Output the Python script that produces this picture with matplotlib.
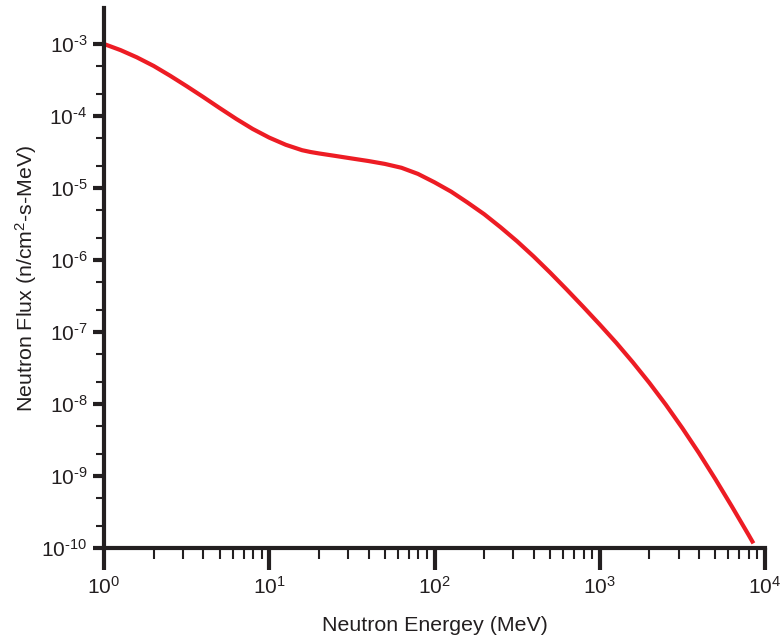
import numpy as np
import matplotlib
matplotlib.use("Agg")
import matplotlib.pyplot as plt
from matplotlib.ticker import FixedLocator, NullFormatter, FuncFormatter

plt.rcParams['font.family'] = ['Liberation Sans', 'DejaVu Sans']
plt.rcParams['mathtext.fontset'] = 'custom'
plt.rcParams['mathtext.rm'] = 'Liberation Sans'
plt.rcParams['mathtext.it'] = 'Liberation Sans'

# Data
energy_mev = [1.0, 1.26, 1.58, 2.0, 2.51, 3.16, 3.98, 5.01, 6.31, 7.94,
              10, 12.6, 15.8, 17.8, 20, 25.1, 31.6, 39.8, 50.1, 63.1, 79.4,
              100, 126, 158, 200, 251, 316, 398, 501, 631, 794,
              1000, 1259, 1585, 1995, 2512, 3162, 3981, 5012, 6310, 7943, 8511]
flux = [1.0e-3, 8.22e-4, 6.53e-4, 4.95e-4, 3.63e-4, 2.60e-4, 1.84e-4, 1.29e-4, 9.12e-5, 6.61e-5,
        5.01e-5, 3.98e-5, 3.35e-5, 3.16e-5, 3.02e-5, 2.79e-5, 2.57e-5, 2.37e-5, 2.16e-5, 1.91e-5, 1.57e-5,
        1.20e-5, 8.91e-6, 6.31e-6, 4.32e-6, 2.85e-6, 1.82e-6, 1.12e-6, 6.68e-7, 3.89e-7, 2.24e-7,
        1.27e-7, 7.08e-8, 3.80e-8, 1.97e-8, 9.77e-9, 4.62e-9, 2.09e-9, 9.02e-10, 3.76e-10, 1.53e-10, 1.16e-10]

x_ticks = [1e0, 1e1, 1e2, 1e3, 1e4]
y_ticks = [1e-10, 1e-9, 1e-8, 1e-7, 1e-6, 1e-5, 1e-4, 1e-3]

fig = plt.figure(figsize=(7.83, 6.37), dpi=100)
ax = fig.add_axes([104/783, 89/637, (765-104)/783, (548-8)/637])

ax.plot(energy_mev, flux, color='#ED1C24', lw=3.0, solid_capstyle='butt',
        solid_joinstyle='round')

ax.set_xscale('log')
ax.set_yscale('log')
ax.set_xlim(1, 1e4)
ax.set_ylim(1e-10, 10**-2.5)

for s in ['top', 'right']:
    ax.spines[s].set_visible(False)
for s in ['left', 'bottom']:
    ax.spines[s].set_linewidth(3)
    ax.spines[s].set_color('#231F20')
    ax.spines[s].set_capstyle('projecting')


def pow_fmt(v, pos):
    e = int(round(np.log10(v)))
    if e < 0:
        return r'$\mathregular{10^{\text{-}%d}}$' % (-e)
    return r'$\mathregular{10^{%d}}$' % e


ax.xaxis.set_major_locator(FixedLocator(x_ticks))
ax.yaxis.set_major_locator(FixedLocator(y_ticks))
xminor = [m * d for d in x_ticks[:-1] for m in range(2, 10)]
yminor = [m * d for d in y_ticks[:-1] for m in (2, 5)]
ax.xaxis.set_minor_locator(FixedLocator(xminor))
ax.yaxis.set_minor_locator(FixedLocator(yminor))
ax.xaxis.set_minor_formatter(NullFormatter())
ax.yaxis.set_minor_formatter(NullFormatter())
ax.xaxis.set_major_formatter(FuncFormatter(pow_fmt))
ax.yaxis.set_major_formatter(FuncFormatter(pow_fmt))

ax.tick_params(axis='x', which='major', direction='out', length=16, width=3,
               color='#231F20', labelsize=15, pad=4)
ax.tick_params(axis='x', which='minor', direction='out', length=8, width=1.5,
               color='#231F20')
ax.tick_params(axis='y', which='major', direction='out', length=8, width=3,
               color='#231F20', labelsize=15, pad=4)
ax.tick_params(axis='y', which='minor', direction='out', length=6, width=1.5,
               color='#231F20')

ax.set_xlabel('Neutron Energey (MeV)', fontsize=15.4, labelpad=13, color='#231F20')
ax.set_ylabel('Neutron Flux (n/cm$^{2}$-s-MeV)', fontsize=15.4, labelpad=2,
              color='#231F20')
for lab in ax.get_xticklabels() + ax.get_yticklabels():
    lab.set_color('#231F20')

fig.savefig('out.png', dpi=100)
